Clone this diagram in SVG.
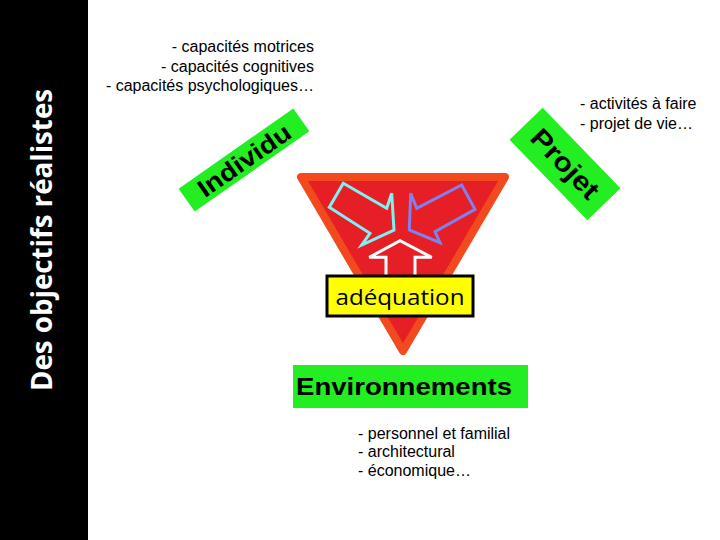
<svg xmlns="http://www.w3.org/2000/svg" width="720" height="540" viewBox="0 0 720 540">
<style>
.note{font-family:"Liberation Sans",Arial,sans-serif;font-size:16px;fill:#000}
.lbl{font-family:"Liberation Sans",Arial,sans-serif;font-weight:bold;fill:#000}
.green{fill:#22ee22}
</style>
<rect x="0" y="0" width="720" height="540" fill="#fff"/>
<g id="title-bar">
<rect x="0" y="0" width="88" height="540" fill="#000"/>
<text transform="translate(52,240) rotate(-90)" text-anchor="middle" font-family="'Open Sans','DejaVu Sans',sans-serif" font-weight="bold" font-size="28" fill="#fff" textLength="302" lengthAdjust="spacingAndGlyphs">Des objectifs réalistes</text>
</g>
<g id="triangle">
<polygon points="301,177 505,177 403,351" fill="#e61e25" stroke="#f24a1e" stroke-width="8" stroke-linejoin="round"/>
</g>
<g id="connectors" fill="none" stroke-width="3" stroke-linejoin="miter">
<polygon points="343.3,183.3 329.3,207.3 370,233.3 361.7,245 394,230 391.7,193.3 386.7,208.3" stroke="#80f0f0"/>
<polygon points="461.7,185 475,209.3 435,231.7 440,242.7 409.3,230 410.7,193.3 416.7,208.3" stroke="#8080ee"/>
<polygon points="386,280 386,257.3 369.3,257.3 400,240.7 431.7,257.3 415,257.3 415,280" stroke="#fff"/>
</g>
<g id="individu">
<g transform="translate(244,160) rotate(-35)">
<rect x="-70" y="-14" width="140" height="28" class="green"/>
<text x="0" y="9" text-anchor="middle" class="lbl" font-size="25" textLength="108" lengthAdjust="spacingAndGlyphs">Individu</text>
</g>
</g>
<g id="projet">
<g transform="translate(565,164) rotate(46)">
<rect x="-56" y="-23" width="112" height="46" class="green"/>
<text x="0" y="9" text-anchor="middle" class="lbl" font-size="27" textLength="86" lengthAdjust="spacingAndGlyphs">Projet</text>
</g>
</g>
<g id="adequation">
<rect x="327" y="276" width="146" height="40" fill="#ffff00" stroke="#000" stroke-width="3"/>
<text x="400" y="305" text-anchor="middle" font-family="'Open Sans','Noto Sans',sans-serif" font-size="22" fill="#000" textLength="129" lengthAdjust="spacingAndGlyphs">adéquation</text>
</g>
<g id="environnements">
<rect x="293" y="365" width="235" height="43" class="green"/>
<text x="404" y="395" text-anchor="middle" class="lbl" font-size="24" textLength="216" lengthAdjust="spacingAndGlyphs">Environnements</text>
</g>
<g id="notes-individu">
<text class="note" text-anchor="end" x="314" y="52">- capacités motrices</text>
<text class="note" text-anchor="end" x="314" y="71.5">- capacités cognitives</text>
<text class="note" text-anchor="end" x="314" y="91">- capacités psychologiques…</text>
</g>
<g id="notes-projet">
<text class="note" x="580" y="109">- activités à faire</text>
<text class="note" x="580" y="128.5">- projet de vie…</text>
</g>
<g id="notes-env">
<text class="note" x="358" y="438.5">- personnel et familial</text>
<text class="note" x="358" y="457">- architectural</text>
<text class="note" x="358" y="475.5">- économique…</text>
</g>
</svg>
